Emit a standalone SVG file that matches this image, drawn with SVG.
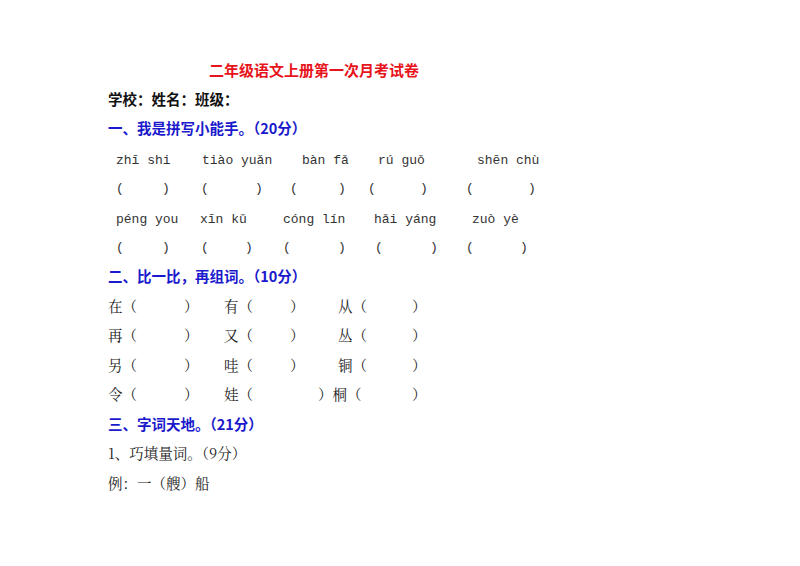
<svg xmlns="http://www.w3.org/2000/svg" width="800" height="566" viewBox="0 0 800 566">
<style>
.t{font-family:"Noto Serif CJK SC","Noto Sans CJK SC",serif;font-size:14.5px;fill:#222}
.b{font-weight:bold}
.h{font-family:"Noto Sans CJK SC",sans-serif;font-weight:bold;font-size:14.5px;fill:#1a1acc}
.p{font-family:"Liberation Mono","DejaVu Sans Mono",monospace;font-size:13px;fill:#333}
</style>
<rect width="800" height="566" fill="#fff"/>
<text x="209" y="76" style="font-family:'Noto Sans CJK SC',sans-serif;font-weight:bold;font-size:15px;fill:#e8141c">二年级语文上册第一次月考试卷</text>
<text x="108" y="105" class="t b" style="font-family:'Noto Sans CJK SC',sans-serif;fill:#111">学校：姓名：班级：</text>
<text x="108" y="134" class="h">一、我是拼写小能手。（20分）</text>
<g class="p">
<text x="116" y="164">zhī shi</text><text x="202" y="164">tiào yuǎn</text><text x="302" y="164">bàn fǎ</text><text x="378" y="164">rú  guǒ</text><text x="477" y="164">shēn chù</text>
<text x="116" y="192">(</text><text x="162" y="192">)</text><text x="201" y="192">(</text><text x="255" y="192">)</text><text x="290" y="192">(</text><text x="338" y="192">)</text><text x="368" y="192">(</text><text x="420" y="192">)</text><text x="466" y="192">(</text><text x="528" y="192">)</text>
<text x="116" y="223">péng you</text><text x="200" y="223">xīn kǔ</text><text x="283" y="223">cóng lín</text><text x="374" y="223">hǎi yáng</text><text x="472" y="223">zuò yè</text>
<text x="116" y="251">(</text><text x="162" y="251">)</text><text x="201" y="251">(</text><text x="245" y="251">)</text><text x="283" y="251">(</text><text x="338" y="251">)</text><text x="375" y="251">(</text><text x="430" y="251">)</text><text x="466" y="251">(</text><text x="520" y="251">)</text>
</g>
<text x="108" y="282" class="h">二、比一比，再组词。（10分）</text>
<g class="t">
<text x="108" y="312">在（</text><text x="184" y="312">）</text><text x="224" y="312">有（</text><text x="290" y="312">）</text><text x="338" y="312">从（</text><text x="412" y="312">）</text>
<text x="108" y="341">再（</text><text x="184" y="341">）</text><text x="224" y="341">又（</text><text x="290" y="341">）</text><text x="338" y="341">丛（</text><text x="412" y="341">）</text>
<text x="108" y="371">另（</text><text x="184" y="371">）</text><text x="224" y="371">哇（</text><text x="290" y="371">）</text><text x="338" y="371">铜（</text><text x="412" y="371">）</text>
<text x="108" y="400">令（</text><text x="184" y="400">）</text><text x="224" y="400">娃（</text><text x="318" y="400">）桐（</text><text x="412" y="400">）</text>
</g>
<text x="108" y="430" class="h">三、字词天地。（21分）</text>
<text x="108" y="459" class="t">1、巧填量词。（9分）</text>
<text x="108" y="489" class="t">例：一（艘）船</text>
</svg>
